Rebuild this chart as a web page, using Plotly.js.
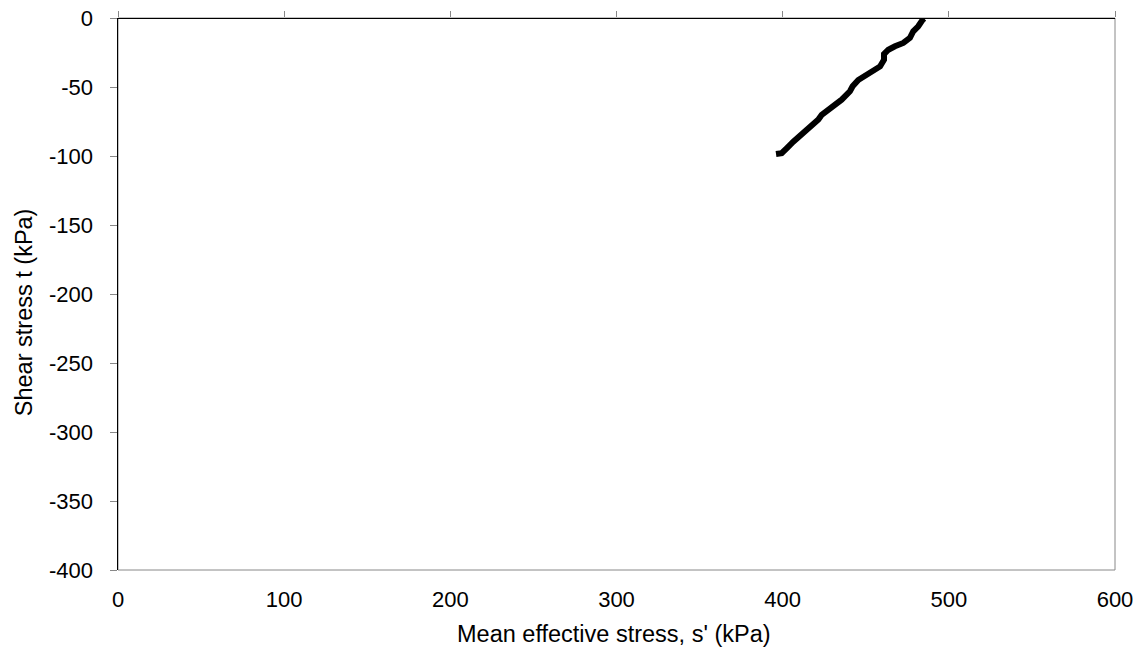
<!DOCTYPE html>
<html>
<head>
<meta charset="utf-8">
<script src="https://cdn.plot.ly/plotly-3.0.1.min.js"></script>
<style>
html,body{margin:0;padding:0;background:#fff;}
#chart{width:1142px;height:653px;}
</style>
</head>
<body>
<div id="chart"></div>
<script>
// Mean effective stress s' (kPa)
var sPrime = [485.2, 484.3, 481.6, 478.6, 476.6, 472.6, 467.6, 463.6, 461.0, 461.0, 458.6, 453.6, 448.5, 445.5, 442.1, 440.5, 435.5, 429.5, 423.5, 421.5, 415.4, 409.4, 406.4, 402.4, 399.4, 396.0];
// Shear stress t (kPa)
var shearT = [-0.3, -1.2, -6.0, -9.6, -14.4, -18.1, -20.5, -23.0, -26.1, -30.2, -35.1, -38.7, -43.5, -44.9, -49.5, -53.1, -59.2, -65.2, -70.1, -73.6, -79.9, -85.4, -89.6, -94.4, -98.0, -98.6];
var xTicks = [0, 100, 200, 300, 400, 500, 600];
var yTicks = [0, -50, -100, -150, -200, -250, -300, -350, -400];
var xTitle = "Mean effective stress, s' (kPa)";
var yTitle = 'Shear stress t (kPa)';

var font = {family: 'Liberation Sans, Arial, sans-serif', size: 22, color: '#000'};
var titleFont = {family: 'Liberation Sans, Arial, sans-serif', size: 23.5, color: '#000'};

var data = [{
  x: sPrime, y: shearT, type: 'scatter', mode: 'lines',
  line: {color: '#000', width: 6}, showlegend: false, hoverinfo: 'none'
}, {
  x: [0, 600], y: [0, 0], xaxis: 'x2', type: 'scatter', mode: 'none',
  showlegend: false, hoverinfo: 'none'
}];

var layout = {
  width: 1142, height: 653,
  margin: {l: 118, r: 27, t: 18, b: 83},
  paper_bgcolor: '#fff', plot_bgcolor: '#fff',
  font: font,
  xaxis: {
    range: [0, 600], tickvals: xTicks, ticktext: xTicks.map(String),
    showgrid: false, zeroline: false, showline: false,
    ticks: 'outside', ticklen: 10, tickcolor: 'rgba(0,0,0,0)',
    tickfont: font
  },
  xaxis2: {
    range: [0, 600], overlaying: 'x', side: 'top', tickvals: xTicks,
    showticklabels: false, showgrid: false, zeroline: false, showline: false,
    ticks: 'outside', ticklen: 6, tickcolor: '#888', tickwidth: 1
  },
  yaxis: {
    range: [-400, 0], tickvals: yTicks, ticktext: yTicks.map(String),
    showgrid: false, zeroline: false,
    showline: true, linecolor: '#000', linewidth: 1.5,
    ticks: 'outside', ticklen: 7, tickcolor: '#888', tickwidth: 1,
    ticklabelstandoff: 12,
    tickfont: font
  },
  annotations: [
    {text: xTitle, xref: 'paper', yref: 'paper', x: 0.497, y: -0.116,
     xanchor: 'center', yanchor: 'middle', showarrow: false, font: titleFont},
    {text: yTitle, xref: 'paper', yref: 'paper', x: -0.0943, y: 0.467,
     xanchor: 'center', yanchor: 'middle', textangle: -90, showarrow: false, font: titleFont}
  ],
  shapes: [
    {type: 'rect', xref: 'paper', yref: 'paper', x0: 0, x1: 1, y0: 0, y1: 1,
     line: {color: '#888', width: 1}, layer: 'below'},
    {type: 'line', xref: 'paper', yref: 'y', x0: 0, x1: 1, y0: 0, y1: 0,
     line: {color: '#000', width: 2}, layer: 'above'}
  ]
};

Plotly.newPlot('chart', data, layout, {displayModeBar: false, staticPlot: true});
</script>
</body>
</html>
